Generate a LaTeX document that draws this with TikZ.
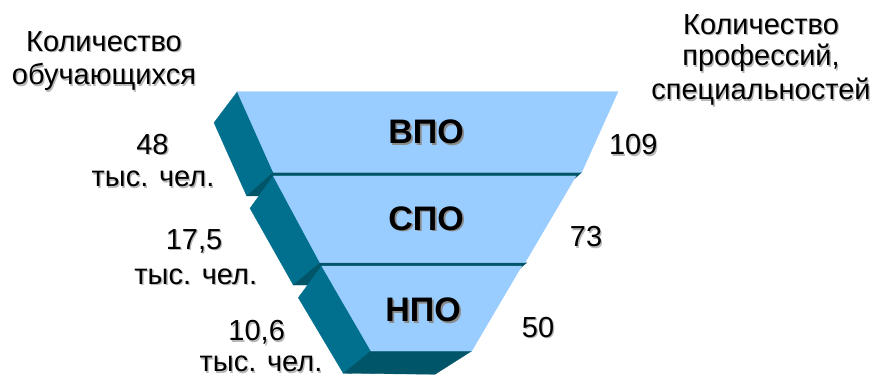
\documentclass[tikz,border=0pt]{standalone}
\usepackage{fontspec}
\setmainfont{Liberation Sans}
\definecolor{frontc}{HTML}{99CCFF}
\definecolor{sidec}{HTML}{00708E}
\definecolor{bottomc}{HTML}{005569}
\definecolor{shlight}{HTML}{B8B8B8}
\definecolor{shdark}{HTML}{8A8A8A}
\tikzset{
  front/.style={fill=frontc, draw=frontc, line width=0.3pt, line join=round},
  side/.style={fill=sidec, draw=sidec, line width=0.3pt, line join=round},
  bottomface/.style={fill=bottomc, draw=bottomc, line width=0.3pt, line join=round},
  lbl/.style={anchor=base, inner sep=0pt, font=\fontsize{29}{33}\selectfont, text=black},
  lblsh/.style={lbl, text=shlight},
  big/.style={anchor=base, inner sep=0pt, font=\fontsize{34}{38}\selectfont\bfseries, text=black},
  bigsh/.style={big, text=shdark}
}
\newcommand{\lbltext}[4]{%
  \node[lblsh] (#1s) at (#2+1.3,#3+1.3) {#4};
  \node[lbl] (#1) at (#2,#3) {#4};}
\newcommand{\bigtext}[4]{%
  \node[bigsh] (#1s) at (#2+1.8,#3+1.8) {#4};
  \node[big] (#1) at (#2,#3) {#4};}
\begin{document}
\begin{tikzpicture}[x=1pt,y=-1pt]
\useasboundingbox (0,0) rectangle (874,379);
% layer 1 (VPO)
\fill[side] (237.3,91.7) -- (214,122.7) -- (246.7,196) -- (273.3,172.3) -- cycle;
\fill[bottomface] (273.3,172.3) -- (581.7,172.3) -- (555,196) -- (246.7,196) -- cycle;
\fill[front] (237.3,91.7) -- (618,91.7) -- (581.7,172.3) -- (273.3,172.3) -- cycle;
% layer 2 (SPO)
\fill[side] (273.3,176) -- (250,208.3) -- (293.3,285) -- (320,262.7) -- cycle;
\fill[bottomface] (320,262.7) -- (526.7,262.7) -- (500,285) -- (293.3,285) -- cycle;
\fill[front] (273.3,176) -- (576,176) -- (525,262.7) -- (320,262.7) -- cycle;
% layer 3 (NPO)
\fill[side] (321.7,266) -- (298.3,297.7) -- (343.3,373.3) -- (371,351) -- cycle;
\fill[bottomface] (371,351) -- (471.7,351) -- (435,374.3) -- (343.3,373.3) -- cycle;
\fill[front] (321.7,266) -- (521.7,266) -- (471.7,351) -- (371,351) -- cycle;
% layer titles
\bigtext{vpo}{426}{143.3}{ВПО}
\bigtext{spo}{426}{230}{СПО}
\bigtext{npo}{423}{321.7}{НПО}
% left header
\lbltext{lh1}{104}{51.7}{Количество}
\lbltext{lh2}{104}{85}{обучающихся}
% right header
\lbltext{rh1}{761}{34.5}{Количество}
\lbltext{rh2}{761}{66}{профессий,}
\lbltext{rh3}{761}{100}{специальностей}
% left values
\lbltext{l1a}{152.5}{154.3}{48}
\lbltext{l1b}{153}{187}{тыс. чел.}
\lbltext{l2a}{194}{249.3}{17,5}
\lbltext{l2b}{195.8}{284}{тыс. чел.}
\lbltext{l3a}{256.7}{340.7}{10,6}
\lbltext{l3b}{261}{371.7}{тыс. чел.}
% right values
\lbltext{r1}{633.3}{155}{109}
\lbltext{r2}{586}{246.7}{73}
\lbltext{r3}{538}{337.3}{50}
\end{tikzpicture}
\end{document}
